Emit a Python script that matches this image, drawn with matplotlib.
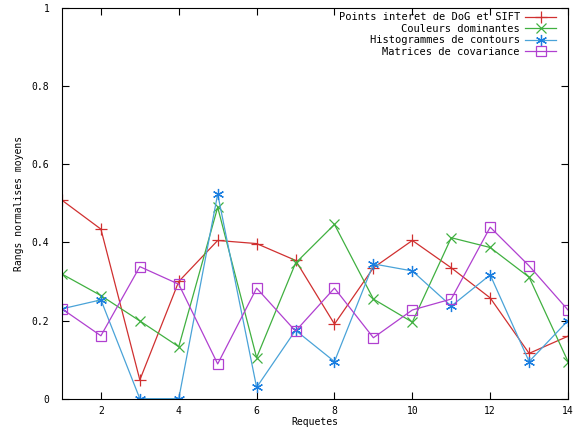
import numpy as np
import matplotlib
matplotlib.use("Agg")
import matplotlib.pyplot as plt

# Data
requetes = list(range(1, 15))
points_sift = [0.508, 0.434, 0.048, 0.300, 0.405, 0.397, 0.354, 0.191, 0.335, 0.405, 0.335, 0.258, 0.116, 0.160]
couleurs = [0.319, 0.264, 0.199, 0.133, 0.490, 0.105, 0.347, 0.446, 0.255, 0.196, 0.412, 0.387, 0.311, 0.095]
histogrammes = [0.230, 0.253, 0.0, 0.0, 0.524, 0.029, 0.175, 0.095, 0.345, 0.327, 0.237, 0.317, 0.095, 0.200]
covariance = [0.230, 0.161, 0.338, 0.293, 0.089, 0.283, 0.173, 0.283, 0.156, 0.227, 0.255, 0.439, 0.340, 0.227]

labels = ["Points interet de DoG et SIFT", "Couleurs dominantes",
          "Histogrammes de contours", "Matrices de covariance"]

plt.rcParams['font.family'] = ['DejaVu Sans Mono']
fs = 7

fig = plt.figure(figsize=(5.82, 4.30), dpi=100)
ax = fig.add_axes([0.1065, 0.0728, 0.8695, 0.9086])

ax.plot(requetes, points_sift, color='#d03030', lw=0.9, marker='+', ms=8, mew=0.9, label=labels[0])
ax.plot(requetes, couleurs, color='#40b040', lw=0.9, marker='x', ms=7, mew=0.9, label=labels[1])
ax.plot(requetes, histogrammes, color='#4aa3d8', lw=0.9, marker=(6, 2, 0), ms=8, mew=0.9,
        mec='#1a7ee0', label=labels[2])
ax.plot(requetes, covariance, color='#b040d0', lw=0.9, marker='s', ms=7, mew=0.9, mfc='none',
        label=labels[3])

ax.set_xlim(1, 14)
ax.set_ylim(0, 1)
ax.set_xticks(range(2, 15, 2))
ax.set_yticks([0, 0.2, 0.4, 0.6, 0.8, 1])
ax.set_yticklabels(["0", "0.2", "0.4", "0.6", "0.8", "1"])
ax.tick_params(direction='in', top=True, right=True, length=5, width=0.8, labelsize=fs)
ax.tick_params(axis='x', pad=5)
ax.tick_params(axis='y', pad=9)
for s in ax.spines.values():
    s.set_linewidth(0.8)

ax.set_xlabel("Requetes", fontsize=fs, labelpad=1)
ax.set_ylabel("Rangs normalises moyens", fontsize=fs, labelpad=6)

leg = ax.legend(loc='upper right', fontsize=7.5, frameon=False, markerfirst=False,
                handlelength=3.0, handletextpad=0.5, labelspacing=0.15,
                borderaxespad=0.2, borderpad=0.2, bbox_to_anchor=(0.985, 1.0))
for t in leg.get_texts():
    t.set_ha('right')
leg._legend_box.align = 'right'

fig.savefig("out.png", dpi=100)
